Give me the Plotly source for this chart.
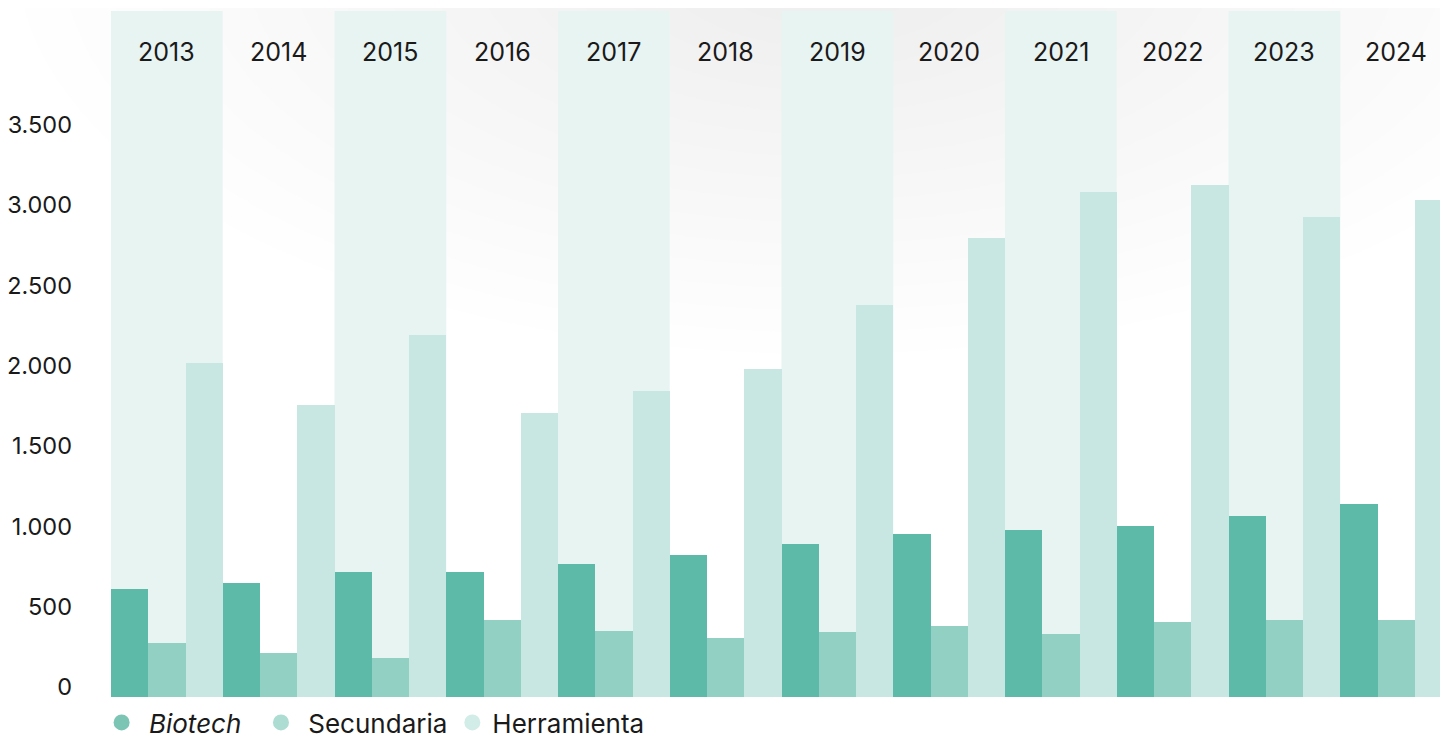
import plotly.graph_objects as go

# Daten
jahre = ["2013", "2014", "2015", "2016", "2017", "2018",
         "2019", "2020", "2021", "2022", "2023", "2024"]
biotech = [672, 710, 778, 778, 828, 884, 953, 1015, 1040, 1065, 1127, 1202]
secundaria = [336, 274, 243, 479, 411, 367, 405, 442, 392, 467, 479, 479]
herramienta = [2080, 1818, 2254, 1768, 1905, 2042, 2441, 2858, 3144, 3188, 2989, 3095]
y_ticks = [0, 500, 1000, 1500, 2000, 2500, 3000, 3500]

# Farben
c_bio = "#5DBAA8"
c_sec = "#92D0C3"
c_her = "#C9E7E2"
c_band = "#E8F4F2"
schrift = "Inter"

fig = go.Figure()

for name, werte, farbe in [("Biotech", biotech, c_bio),
                           ("Secundaria", secundaria, c_sec),
                           ("Herramienta", herramienta, c_her)]:
    fig.add_trace(go.Bar(x=jahre, y=werte, name=name, marker_color=farbe,
                         marker_line_width=0, showlegend=False))

# Legende mit Kreisen
for name, farbe in [("&nbsp;<i>Biotech</i>&nbsp;&nbsp;", "#7CC4B4"),
                    ("&nbsp;Secundaria", "#ADDCD2"),
                    ("Herramienta", "#D2ECE7")]:
    fig.add_trace(go.Scatter(x=[None], y=[None], mode="markers", name=name,
                             marker=dict(symbol="circle", size=18, color=farbe)))

# leichter Farbverlauf oben (viele konzentrische Ellipsen, sehr transparent)
n_ringe = 16
for k in range(n_ringe):
    rx = 0.60 - k * 0.034
    ry = 0.58 - k * 0.032
    fig.add_shape(type="circle", xref="paper", yref="paper",
                  x0=0.53 - rx, x1=0.53 + rx, y0=1.08 - ry, y1=1.08 + ry,
                  fillcolor="#D9E0CC", opacity=0.028, line_width=0, layer="below")

# Hintergrundstreifen für jedes zweite Jahr
for i, j in enumerate(jahre):
    if i % 2 == 0:
        fig.add_shape(type="rect", xref="x", yref="paper",
                      x0=i - 0.5, x1=i + 0.5, y0=0, y1=1,
                      fillcolor=c_band, line_width=0, layer="below")
    fig.add_annotation(x=i, y=0.94, xref="x", yref="paper", text=j,
                       yanchor="middle", showarrow=False,
                       font=dict(size=25, color="#1a1a1a", family=schrift))

fig.update_layout(
    width=1448, height=738,
    margin=dict(l=103, r=4, t=3, b=49, autoexpand=False),
    barmode="group", bargap=0, bargroupgap=0,
    paper_bgcolor="white", plot_bgcolor="rgba(0,0,0,0)",
    separators=",.",
    font=dict(family=schrift, size=23, color="#1a1a1a"),
    legend=dict(orientation="h", x=-0.007, xanchor="left", y=-0.003, yanchor="top",
                font=dict(size=26, color="#1a1a1a"), itemsizing="trace",
                bgcolor="rgba(0,0,0,0)"),
)
fig.update_xaxes(type="category", showticklabels=False, showgrid=False,
                 zeroline=False, showline=False, range=[-0.5, 11.5], automargin=False)
fig.update_yaxes(range=[0, 4271], tickvals=y_ticks, tickformat=",d",
                 showgrid=False, zeroline=False, showline=False, automargin=False,
                 ticklabelstandoff=38, ticklabelshift=-10,
                 tickfont=dict(size=23.5, color="#1a1a1a"))

fig.write_html("out.html")
